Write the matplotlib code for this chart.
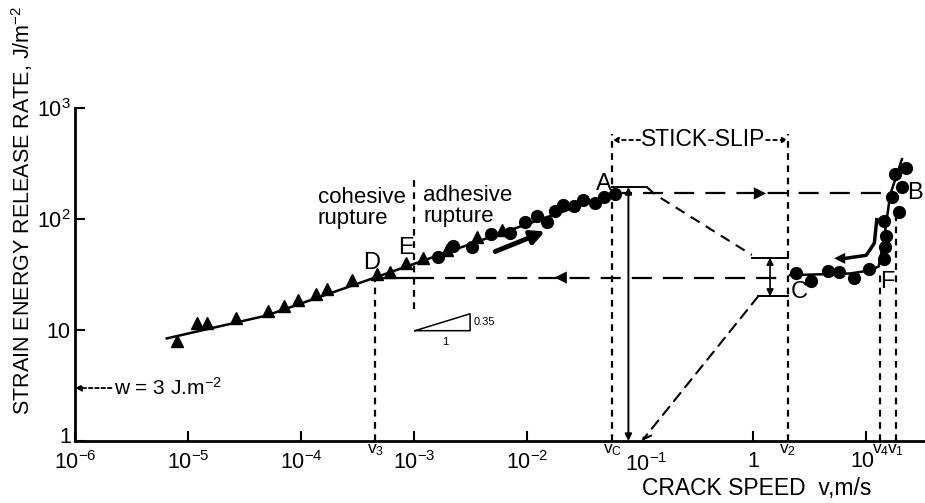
import numpy as np
import matplotlib
matplotlib.use("Agg")
import matplotlib.pyplot as plt
from matplotlib.transforms import blended_transform_factory, ScaledTranslation

plt.rcParams['font.family'] = ['Liberation Sans', 'DejaVu Sans']
plt.rcParams['mathtext.default'] = 'regular'

# cohesive rupture (triangles)
tri_v = [7.94e-6, 1.19e-5, 1.46e-5, 2.66e-5, 5.07e-5, 7.11e-5, 9.35e-5, 1.36e-4,
         1.69e-4, 2.81e-4, 4.73e-4, 6.14e-4, 8.49e-4, 1.20e-3, 1.94e-3, 3.59e-3, 5.97e-3]
tri_G = [8.0, 11.6, 11.6, 12.8, 14.7, 16.6, 18.5, 20.9,
         23.3, 28.1, 32.0, 33.0, 40.2, 44.2, 52.6, 68.2, 80.0]

# adhesive rupture, slow branch (circles)
slow_v = [1.64e-3, 2.23e-3, 3.24e-3, 4.78e-3, 7.08e-3, 9.60e-3, 1.22e-2, 1.49e-2,
          1.77e-2, 2.09e-2, 2.61e-2, 3.15e-2, 4.00e-2, 4.80e-2, 6.01e-2]
slow_G = [45.8, 57.7, 55.6, 73.1, 74.6, 93.9, 105.8, 93.9,
          117.5, 133.3, 130.4, 149.7, 139.8, 157.5, 166.3]

# fast branch (circles)
fast_v = [2.40, 3.23, 4.56, 5.73, 7.83, 10.6, 14.5, 14.7, 15.0, 14.4,
          19.6, 16.9, 20.7, 18.1, 22.6]
fast_G = [32.6, 27.9, 33.7, 33.0, 29.5, 35.1, 43.6, 56.5, 69.6, 96.5,
          115.8, 158.5, 194.2, 252.8, 290.8]

# fitted curves
fit_slow_v = [6.49e-6, 4.96e-5, 4.52e-4, 6.14e-2]
fit_slow_G = [8.4, 13.5, 29.7, 172]
fit_fast_v = [2.12, 7.21, 10.8, 12.9, 14.4, 16.3, 20.7]
fit_fast_G = [31.2, 32.3, 34.4, 37.4, 67.2, 166, 346]

# characteristic speeds
v3, vE, vc, v_drop, v2, v4, v1 = 4.52e-4, 1e-3, 5.69e-2, 7.87e-2, 2.03, 13.3, 18.3
G_A, G_top, G_D = 194, 170, 29.7
G_hi, G_lo = 44.8, 20.1
w = 3

xticks = [1e-6, 1e-5, 1e-4, 1e-3, 1e-2, 1, 10]
xtick_labels = ['$10^{-6}$', '$10^{-5}$', '$10^{-4}$', '$10^{-3}$', '$10^{-2}$', '1', '10']
yticks = [1, 10, 100, 1000]
ytick_labels = ['1', '10', '$10^{2}$', '$10^{3}$']

fig = plt.figure(figsize=(9.25, 5.03), dpi=100)
ax = fig.add_axes([75 / 925, 62 / 503, 850 / 925, 333 / 503])
ax.set_xscale('log')
ax.set_yscale('log')
ax.set_xlim(1e-6, 10 ** 1.52)
ax.set_ylim(1, 1000)
for s in ['top', 'right']:
    ax.spines[s].set_visible(False)
for s in ['left', 'bottom']:
    ax.spines[s].set_linewidth(2)
ax.minorticks_off()
ax.set_xticks(xticks)
ax.set_xticklabels(xtick_labels)
ax.set_yticks(yticks)
ax.set_yticklabels(ytick_labels)
ax.tick_params(axis='both', direction='in', length=7, width=1.5, labelsize=15.5, pad=7)
ax.tick_params(axis='y', pad=3)
# lift the "1" on the y axis a little so it clears the x labels
ylab1 = ax.get_yticklabels()[0]
ylab1.set_transform(ylab1.get_transform() + ScaledTranslation(0, 4 / 72, fig.dpi_scale_trans))
# nudge the "10" on the x axis left of the v4 / v1 marks
xlab10 = ax.get_xticklabels()[-1]
xlab10.set_transform(xlab10.get_transform() + ScaledTranslation(-3 / 72, 0, fig.dpi_scale_trans))

k = 'black'
ax.plot(fit_slow_v, fit_slow_G, color=k, lw=1.8)
ax.plot(fit_fast_v, fit_fast_G, color=k, lw=1.8)
ax.plot(tri_v, tri_G, '^', color=k, ms=8, ls='none')
ax.plot(slow_v, slow_G, 'o', color=k, ms=8.5, ls='none')
ax.plot(fast_v, fast_G, 'o', color=k, ms=8.5, ls='none')

short = (0, (3, 2.5))
long_ = (0, (9, 5))

# vertical markers
ax.plot([v3, v3], [1, G_D], color=k, lw=1.6, ls=short)
ax.plot([vE, vE], [15.5, 235], color=k, lw=1.6, ls=short)
ax.plot([vc, vc], [1, 580], color=k, lw=1.6, ls=short)
ax.plot([v2, v2], [1, 580], color=k, lw=1.6, ls=short)
ax.plot([v4, v4], [1, 33], color=k, lw=1.6, ls=short)
ax.plot([v1, v1], [1, 106], color=k, lw=1.6, ls=short)

# horizontal paths A -> B and C -> D
ax.plot([vc, 16.3], [G_top, G_top], color=k, lw=1.6, ls=long_)
ax.plot([v3, vE], [G_D, G_D], color=k, lw=1.6)
ax.plot([vE, v2], [G_D, G_D], color=k, lw=1.6, ls=long_)
ax.annotate('', xy=(1.3, G_top), xytext=(1.0, G_top),
            arrowprops=dict(arrowstyle='-|>', mutation_scale=22, color=k, lw=0, shrinkA=0, shrinkB=0))
ax.annotate('', xy=(0.0175, G_D), xytext=(0.024, G_D),
            arrowprops=dict(arrowstyle='-|>', mutation_scale=22, color=k, lw=0, shrinkA=0, shrinkB=0))

# drop from A to the axis
ax.annotate('', xy=(v_drop, 1), xytext=(v_drop, G_A),
            arrowprops=dict(arrowstyle='<|-|>', mutation_scale=10, color=k, lw=1.4, shrinkA=0, shrinkB=0))

# stick-slip bounds
ax.plot([vc, 0.1146], [G_A, G_A], color=k, lw=1.4)
ax.plot([0.1146, 0.136, 0.973], [G_A, 166, 47.4], color=k, lw=1.5, ls=(0, (5, 3.5)))
ax.plot([0.973, v2], [G_hi, G_hi], color=k, lw=1.4)
ax.plot([1.107, v2], [G_lo, G_lo], color=k, lw=1.4)
ax.annotate('', xy=(0.1035, 1), xytext=(1.107, G_lo),
            arrowprops=dict(arrowstyle='->', mutation_scale=14, color=k, lw=1.5, ls=(0, (5, 3.5)),
                            shrinkA=0, shrinkB=0))
ax.annotate('', xy=(1.41, G_lo), xytext=(1.41, G_hi),
            arrowprops=dict(arrowstyle='<|-|>', mutation_scale=10, color=k, lw=1.2, shrinkA=0, shrinkB=0))

# STICK-SLIP bracket
ax.text(0.361, 515, 'STICK-SLIP', ha='center', va='center', fontsize=16.5)
ax.annotate('', xy=(vc, 515), xytext=(0.1, 515),
            arrowprops=dict(arrowstyle='-|>', mutation_scale=8, color=k, lw=1.3, ls=(0, (2, 2)),
                            shrinkA=0, shrinkB=0))
ax.annotate('', xy=(v2, 515), xytext=(1.3, 515),
            arrowprops=dict(arrowstyle='-|>', mutation_scale=8, color=k, lw=1.3, ls=(0, (2, 2)),
                            shrinkA=0, shrinkB=0))

# direction arrows
ax.annotate('', xy=(1.44e-2, 77.3), xytext=(5.21e-3, 50.9),
            arrowprops=dict(arrowstyle='-|>', mutation_scale=20, color=k, lw=3.5, shrinkA=0, shrinkB=0))
ax.plot([12.4, 11.8, 10.0, 6.52], [98.6, 60.5, 47.1, 44.2], color=k, lw=2.5)
ax.annotate('', xy=(5.2, 44.2), xytext=(6.6, 44.2),
            arrowprops=dict(arrowstyle='-|>', mutation_scale=20, color=k, lw=0, shrinkA=0, shrinkB=0))

# thermodynamic work of adhesion
ax.annotate('', xy=(1e-6, w), xytext=(2.1e-6, w),
            arrowprops=dict(arrowstyle='-|>', mutation_scale=9, color=k, lw=1.3, ls=(0, (2, 1.5)),
                            shrinkA=0, shrinkB=0))
ax.text(2.2e-6, w, 'w = 3 J.m$^{-2}$', ha='left', va='center', fontsize=15)

# slope triangle
ax.plot([1.02e-3, 3.13e-3, 3.13e-3, 1.02e-3], [9.86, 14.0, 9.86, 9.86], color=k, lw=1.1)
ax.text(3.35e-3, 11.8, '0.35', ha='left', va='center', fontsize=8)
ax.text(1.88e-3, 8.7, '1', ha='center', va='top', fontsize=8)

# region and point labels
ax.text(1.41e-4, 193, 'cohesive\nrupture', ha='left', va='top', fontsize=16, linespacing=1.0)
ax.text(1.2e-3, 203, 'adhesive\nrupture', ha='left', va='top', fontsize=16, linespacing=1.0)
for lab, x, y in [('D', 4.23e-4, 39.8), ('E', 8.49e-4, 54.5), ('A', 4.80e-2, 208),
                  ('B', 27.2, 172), ('C', 2.55, 22.2), ('F', 15.3, 27.3)]:
    ax.text(x, y, lab, ha='center', va='center', fontsize=17)

# speed labels on the x axis
tr = blended_transform_factory(ax.transData, ax.transAxes)
for lab, x in [('$v_3$', v3), ('$v_C$', vc), ('$v_2$', v2), ('$v_4$', v4), ('$v_1$', v1)]:
    ax.text(x, -0.005, lab, transform=tr, ha='center', va='top', fontsize=12.5)
ax.text(0.113, -0.035, '$10^{-1}$', transform=tr, ha='center', va='top', fontsize=15.5)

fig.text(757 / 925, 1 - 488 / 503, 'CRACK SPEED  v,m/s', ha='center', va='center', fontsize=16.5)
fig.text(22 / 925, 1 - 210 / 503, 'STRAIN ENERGY RELEASE RATE, J/m$^{-2}$', rotation=90,
         ha='center', va='center', fontsize=15.5)

fig.savefig('out.png', dpi=100)
